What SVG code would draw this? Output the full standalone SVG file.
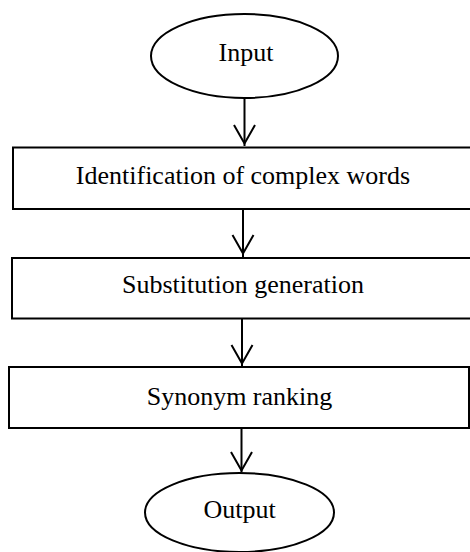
<svg xmlns="http://www.w3.org/2000/svg" width="470" height="552" viewBox="0 0 470 552">
<defs>
<style>
.n{fill:#fff;stroke:#000;stroke-width:2}
.t{font-family:"Liberation Serif","Times New Roman",serif;font-size:26px;fill:#000;text-anchor:middle}
.c{fill:none;stroke:#000;stroke-width:2}
</style>
</defs>
<rect width="470" height="552" fill="#fff"/>
<g id="connectors">
<line class="c" x1="244.5" y1="98" x2="244.5" y2="146"/>
<line class="c" x1="243" y1="209" x2="243" y2="257"/>
<line class="c" x1="242" y1="319" x2="242" y2="366"/>
<line class="c" x1="241.5" y1="428" x2="241.5" y2="472"/>
<path class="c" d="M234,125 L244.5,143.5 L255,125"/>
<path class="c" d="M232.5,235 L243,253.5 L253.5,235"/>
<path class="c" d="M231.5,345 L242,363.5 L252.5,345"/>
<path class="c" d="M231,452 L241.5,470.5 L252,452"/>
</g>
<g id="input"><ellipse class="n" cx="244.5" cy="56" rx="93.5" ry="42"/><text class="t" x="246" y="61">Input</text></g>
<g id="identification"><rect class="n" x="13" y="147.5" width="462" height="61.5"/><text class="t" x="243" y="184">Identification of complex words</text></g>
<g id="substitution"><rect class="n" x="12" y="258" width="462" height="60.5"/><text class="t" x="243" y="293">Substitution generation</text></g>
<g id="ranking"><rect class="n" x="9" y="367" width="460" height="61"/><text class="t" x="239.5" y="405">Synonym ranking</text></g>
<g id="output"><ellipse class="n" cx="239.5" cy="512.5" rx="94.5" ry="39.5"/><text class="t" x="239.5" y="518">Output</text></g>
</svg>
